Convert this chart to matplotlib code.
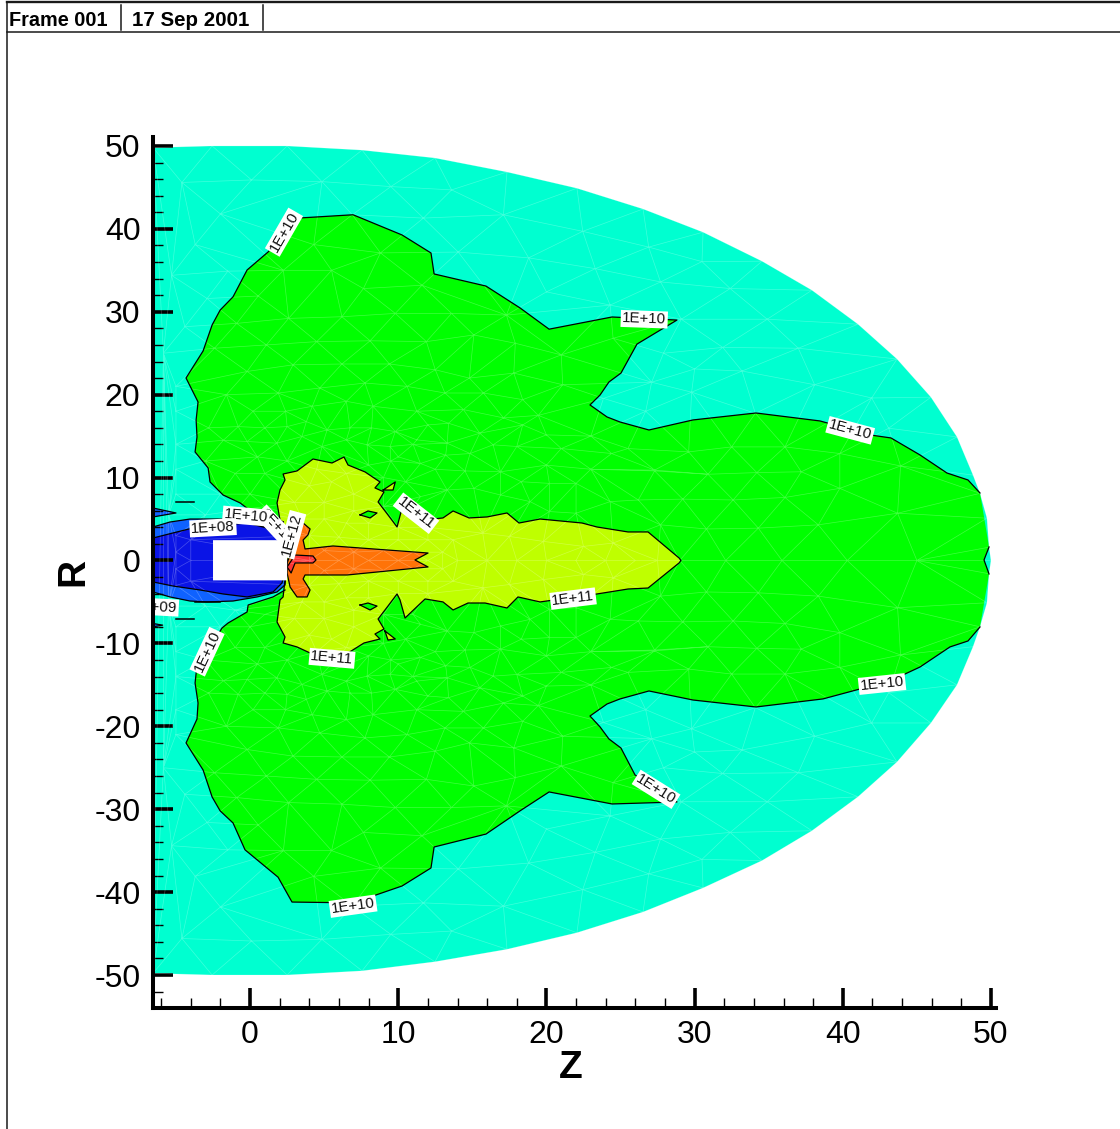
"""Contour plot of a field on a triangular mesh, Z-R plane (Tecplot frame look)."""
import matplotlib

matplotlib.use("Agg")
import matplotlib.pyplot as plt
import matplotlib.tri as mtri
import numpy as np
from matplotlib.lines import Line2D
from matplotlib.path import Path
from matplotlib.ticker import MultipleLocator

plt.rcParams["font.family"] = "Liberation Sans"
plt.rcParams["axes.unicode_minus"] = False

# outer edge of the domain
domain = [(-6.55, 49.8), (-2.56, 50), (2.5, 50), (7.56, 49.5), (12.48, 48.55), (17.34, 46.86),
          (22.06, 44.9), (26.52, 42.4), (30.57, 39.6), (34.55, 36.1), (37.92, 32.6), (41.03, 28.5),
          (43.66, 24.3), (45.95, 19.7), (47.71, 14.9), (48.79, 10.3), (49.26, 8.1), (49.73, 5.1),
          (49.87, 1.6), (50.0, 0), (49.87, -1.6), (49.73, -5.1), (49.26, -8.0), (48.79, -10.4),
          (47.71, -15.0), (45.95, -19.6), (43.66, -24.3), (41.03, -28.5), (37.92, -32.6),
          (34.55, -36.2), (30.57, -39.5), (26.52, -42.4), (22.06, -44.9), (17.34, -46.9),
          (12.48, -48.4), (7.56, -49.5), (2.5, -50), (-2.56, -50), (-6.55, -49.8)]

# 1E+10 contour
green_upper = [(2.16, 2.47), (1.82, 2.83), (1.15, 4.89), (0.13, 5.85), (-0.67, 6.94), (-1.82, 7.9),
               (-2.7, 9.47), (-2.83, 11.16), (-3.71, 13.09), (-3.58, 14.9), (-3.64, 16.95),
               (-3.51, 19.12), (-4.32, 22.01), (-3.17, 25.27), (-2.56, 28.41), (-2.02, 30.2),
               (-1.15, 31.8), (-0.2, 35.04), (1.21, 37.2), (3.24, 41.3), (6.95, 41.7), (10.26, 39.26),
               (12.21, 37.09), (12.42, 34.56), (15.92, 33.1), (18.22, 30.46), (20.18, 27.9),
               (24.43, 29.37), (28.81, 29.0), (26.11, 26.1), (25.03, 22.6), (24.22, 21.53),
               (23.62, 19.96), (22.94, 18.76), (24.09, 17.31), (24.97, 16.7), (26.92, 15.74),
               (29.89, 16.95), (34.14, 17.79), (38.46, 16.83), (41.84, 15.14), (43.25, 14.78),
               (45.21, 12.73), (47.03, 10.55), (48.45, 9.71), (49.26, 8.14)]
green_notch = [(49.87, 1.63), (49.53, 0.06), (49.87, -1.63)]
green_lower = [(49.26, -8.02), (48.45, -9.71), (47.23, -10.43), (45.21, -12.85), (44.06, -13.81),
               (41.16, -15.5), (38.66, -16.7), (34.14, -17.67), (29.89, -16.83), (26.92, -15.74),
               (24.97, -16.7), (24.09, -17.31), (22.94, -18.76), (23.62, -20.08), (24.22, -21.53),
               (25.03, -22.62), (25.98, -25.87), (28.81, -29.13), (24.43, -29.37), (20.18, -27.92),
               (18.22, -30.2), (15.92, -33.0), (12.42, -34.56), (12.21, -37.09), (10.26, -39.26),
               (6.95, -41.3), (2.83, -41.2), (1.89, -38.2), (-0.34, -34.9), (-1.15, -31.66),
               (-2.02, -30.2), (-2.56, -28.53), (-3.17, -25.27), (-4.32, -22.01), (-3.58, -19.12),
               (-3.51, -17.19), (-3.71, -14.78), (-3.58, -12.6), (-2.9, -11.04), (-1.89, -8.14),
               (-1.48, -7.54), (-0.2, -6.21), (-0.13, -5.37), (1.55, -4.4), (2.36, -3.56)]

# 1E+09 and 1E+08 contours around the body
mid_blue = [(-6.55, 4.04), (-5.4, 4.64), (-4.05, 5.0), (-1.82, 5.0), (-0.2, 4.64), (1.01, 4.04),
            (1.82, 2.71), (2.5, 0), (2.36, -2.96), (1.82, -3.8), (0.47, -4.4), (-1.15, -4.89),
            (-2.9, -5.0), (-4.05, -4.89), (-5.4, -4.4), (-6.55, -3.8)]
dark_blue = [(-6.55, 2.71), (-5.2, 3.32), (-3.85, 3.92), (-1.82, 4.28), (-0.2, 4.52), (1.15, 3.92),
             (2.02, 2.47), (2.5, 0), (2.16, -2.71), (1.55, -3.8), (-0.2, -4.4), (-1.82, -4.04),
             (-3.37, -3.56), (-5.2, -3.08), (-6.55, -2.59)]
blue_spike_top = [(-6.55, 6.33), (-5.0, 5.73), (-6.55, 5.25)]
blue_spike_bot = [(-6.55, -7.6), (-5.9, -7.8), (-6.55, -8.0)]
dash_marks = [[(-5.0, 7.0), (-3.8, 7.0)], [(-5.0, -7.0), (-3.8, -7.0)], [(-3.7, -5.0), (-2.0, -5.0)]]

# 1E+11 contour
yellow = [(2.23, 4.64), (2.02, 4.89), (1.82, 6.94), (2.02, 8.5), (2.36, 9.71), (2.23, 10.43),
          (3.17, 10.8), (4.25, 12.24), (5.53, 11.76), (6.34, 12.48), (6.61, 11.52), (7.76, 10.68),
          (8.77, 9.47), (8.43, 8.75), (9.04, 8.26), (8.64, 7.06), (9.31, 5.49), (9.92, 4.04),
          (10.26, 6.33), (11.81, 4.76), (12.35, 5.0), (13.02, 5.13), (13.7, 5.97), (14.78, 5.13),
          (15.99, 5.25), (17.34, 5.73), (18.15, 4.52), (19.57, 5.0), (22.4, 4.52), (23.41, 4.04),
          (25.51, 3.44), (26.86, 3.44), (28.95, 0.3), (29.08, 0), (28.95, -0.3), (26.86, -3.32),
          (25.51, -3.44), (23.41, -4.04), (19.57, -5.0), (18.08, -4.4), (17.34, -5.73),
          (15.86, -5.13), (14.71, -5.13), (13.7, -5.97), (13.02, -5.0), (11.81, -4.64),
          (10.46, -6.94), (10.12, -4.76), (9.92, -4.04), (9.31, -5.49), (8.64, -7.06), (9.04, -8.26),
          (8.43, -8.87), (8.77, -9.47), (7.69, -9.95), (6.61, -11.16), (4.05, -11.16), (3.17, -10.43),
          (2.23, -9.95), (2.36, -9.23), (1.82, -7.42), (2.02, -4.76), (2.23, -4.4), (2.5, 0)]
yellow_spots = [[(8.98, 8.5), (9.8, 9.47), (9.65, 8.5)], [(9.1, -8.5), (9.8, -9.47), (9.31, -9.6)]]
green_spots = [[(7.42, 5.5), (7.96, 5.97), (8.57, 5.73), (8.1, 5.13)],
               [(7.42, -5.37), (7.96, -5.13), (8.57, -5.5), (8.1, -5.97)]]

# 1E+12 and above
orange = [(3.37, 4.04), (3.58, 4.52), (4.05, 3.8), (3.91, 3.08), (3.58, 2.47), (3.71, 1.39), (5.6, 1.75),
          (12.01, 0.9), (11.13, 0.06), (12.01, -0.78), (6.55, -1.75), (3.71, -1.75), (3.58, -2.23),
          (4.05, -3.56), (3.85, -4.4), (3.17, -4.4), (2.7, -3.2), (2.5, -1.51), (2.5, -0.3), (2.83, 1.27),
          (3.17, 2.47)]
red = [(2.5, -0.78), (3.04, 0.66), (4.25, 0.54), (4.45, 0.06), (4.25, -0.3), (3.04, -0.3), (2.77, -1.51)]
body = [(-2.5, 2.45), (2.3, 2.45), (2.5, 1.5), (2.5, -2.4), (-2.5, -2.4)]

# mesh nodes of the upper half; the mesh is symmetric about R = 0
mesh_nodes = [
    (-4.6, 45.6), (0.1, 45.9), (4.85, 45.7), (9.5, 45.1), (13.6, 44.7), (-2.0, 41.8), (6.9, 41.7),
    (11.7, 41.3), (17.1, 41.7), (-3.7, 38.1), (-1.5, 34.9), (14.05, 37.2), (18.8, 36.5), (-5.3, 34.4),
    (-2.9, 31.6), (20.0, 32.4), (-4.4, 28.2), (-5.85, 25.0), (4.3, 38.1), (8.8, 37.1), (5.5, 35.0),
    (2.25, 35.0), (7.65, 32.8), (0.55, 31.9), (11.6, 33.2), (2.6, 29.2), (6.2, 29.4), (9.8, 29.8),
    (13.6, 29.8), (17.3, 29.6), (-0.9, 28.6), (1.1, 26.0), (4.5, 26.4), (8.1, 26.5), (11.9, 26.4),
    (15.1, 27.2), (17.9, 26.2), (-2.4, 25.6), (-0.2, 22.8), (2.9, 23.6), (6.2, 23.7), (9.4, 23.7),
    (12.5, 23.0), (14.8, 22.0), (17.8, 22.6), (21.1, 21.2), (1.9, 20.2), (4.7, 20.8), (7.75, 21.4),
    (10.6, 21.0), (13.15, 20.2), (15.75, 20.2), (18.4, 19.4), (-1.6, 20.0), (0.2, 18.0), (2.4, 18.0),
    (4.2, 18.6), (6.5, 19.2), (8.3, 18.6), (11.25, 18.0), (14.4, 18.2), (17.1, 17.2), (19.45, 17.5),
    (-2.8, 16.0), (-0.8, 16.15), (1.0, 16.0), (2.5, 16.15), (3.8, 16.75), (5.2, 15.75), (6.75, 16.0),
    (8.2, 16.0), (9.8, 15.55), (12.0, 16.35), (13.4, 16.55), (15.5, 15.35), (18.4, 16.35), (20.0, 15.15),
    (-1.8, 14.5), (-0.2, 14.35), (1.8, 14.15), (3.5, 14.95), (4.85, 13.75), (6.5, 14.55), (7.9, 13.95),
    (9.45, 13.75), (11.25, 14.55), (13.3, 14.15), (16.4, 13.95), (18.0, 13.75),
    (22.45, 39.7), (26.9, 37.8), (23.3, 35.2), (27.7, 33.6), (30.5, 36.05), (32.4, 32.8), (24.3, 30.8),
    (29.1, 29.1), (34.9, 29.1), (31.9, 25.7), (37.0, 25.6), (27.9, 25.0), (30.0, 23.1), (33.2, 22.85),
    (27.1, 21.5), (38.1, 21.2), (29.8, 20.3), (41.95, 19.6), (26.7, 18.0), (34.1, 17.75), (43.1, 15.95),
    (24.5, 26.8), (21.0, 24.8), (23.85, 19.55),
    (29.6, 13.1), (32.5, 13.7), (36.1, 13.7), (39.8, 12.9), (43.9, 11.4), (27.3, 10.8), (30.9, 10.4),
    (34.2, 10.6), (37.2, 10.7), (39.8, 8.7), (29.2, 7.4), (32.6, 7.3), (36.1, 7.6), (43.7, 5.7),
    (27.7, 4.3), (30.8, 3.8), (34.3, 3.9), (38.35, 4.3), (29.0, 0), (32.1, 0), (35.9, 0), (40.3, 0), (45.0, 0),
    (11.5, 11.7), (13.2, 12.7), (14.85, 12.9), (16.9, 10.7), (18.3, 9.5), (20.2, 9.3), (22.0, 9.3),
    (24.4, 12.9), (27.3, 10.9), (11.5, 7.7), (13.3, 8.5), (15.1, 8.7), (16.9, 7.9), (18.9, 7.1),
    (20.2, 5.9), (22.0, 5.7), (24.3, 7.1), (26.2, 7.3), (15.7, 3.3), (17.5, 2.9), (19.8, 2.3),
    (22.5, 1.7), (24.5, 2.1), (13.7, 2.5),
    (8.0, 11.5), (9.5, 12.0), (4.0, 9.0), (5.5, 9.5), (7.0, 8.0), (9.0, 10.0), (10.5, 9.5), (3.0, 7.0),
    (5.0, 7.0), (7.0, 6.0), (9.0, 6.5), (11.0, 6.5), (3.5, 5.0), (5.0, 5.0), (6.5, 4.5), (8.0, 4.5),
    (10.0, 4.0), (12.0, 4.0), (4.0, 3.0), (6.0, 2.8), (8.0, 2.5), (10.0, 2.5), (12.0, 2.5), (5.0, 1.2),
    (7.0, 1.0), (9.0, 1.2), (11.0, 1.0), (13.0, 1.0), (4.0, 0), (6.0, 0), (8.0, 0), (10.0, 0), (12.0, 0),
    (14.0, 0), (16.0, 0), (18.0, 0), (20.0, 0), (22.0, 0), (24.0, 0), (26.0, 0), (27.5, 0),
    (-2.0, 8.0), (0.0, 8.0), (-1.0, 10.5), (1.0, 10.5), (-3.0, 12.0), (0.5, 12.5), (2.5, 12.0), (4.5, 11.0),
    (6.5, 10.5), (-5.0, 8.0), (-5.0, 11.0), (-5.0, 14.0), (-5.0, 18.0), (-5.0, 21.0), (-3.0, 5.5), (-1.0, 6.0),
    (1.0, 6.5), (-5.0, 3.0), (-5.0, 1.0), (-4.0, 2.5), (-4.0, 0), (-5.5, 5.5), (10.0, 12.5), (12.5, 11.0),
    (14.5, 10.8), (11.0, 14.0), (21.0, 13.5), (23.0, 15.0), (25.5, 13.5), (23.0, 11.0), (20.0, 11.5),
]

z_ticks = [0, 10, 20, 30, 40, 50]
r_ticks = [-50, -40, -30, -20, -10, 0, 10, 20, 30, 40, 50]

# text, Z, R, rotation (later entries sit on top)
labels = [
    ("1E+09", -6.4, -5.6, -3),
    ("1E+10", 2.29, 39.6, 60),
    ("1E+10", 26.6, 29.1, -2),
    ("1E+10", 40.5, 15.7, -15),
    ("1E+10", 42.65, -14.9, 6),
    ("1E+10", 27.4, -27.6, -32),
    ("1E+10", 6.95, -41.7, 8),
    ("1E+10", -2.9, -11.0, 65),
    ("1E+11", 21.8, -4.6, 7),
    ("1E+11", 5.53, -11.8, -5),
    ("1E+11", 11.2, 5.7, -38),
    ("1E+11", 1.75, 4.05, -47),
    ("1E+10", -0.27, 5.35, -5),
    ("1E+08", -2.5, 3.95, 3),
    ("1E+12", 2.83, 3.1, 75),
]

CYAN = "#00ffd0"
GREEN = "#00ff00"
YELLOW = "#bfff00"
ORANGE = "#ff7308"
RED = "#ff3434"
MID_BLUE = "#0f62ff"
DARK_BLUE = "#0a14e6"

W, H = 1120, 1129
LEFT, RIGHT, TOP, BOTTOM = 153, 996, 137, 1008


def fill(ax, pts, color, edge=True, z=1.0):
    a = np.array(pts)
    ax.fill(a[:, 0], a[:, 1], color=color, lw=0, zorder=z)
    if edge:
        ax.plot(np.r_[a[:, 0], a[0, 0]], np.r_[a[:, 1], a[0, 1]], color="k", lw=0.9, zorder=1.9)


def main():
    fig = plt.figure(figsize=(W / 100, H / 100), dpi=100)
    ax = fig.add_axes([LEFT / W, 1 - BOTTOM / H, (RIGHT - LEFT) / W, (BOTTOM - TOP) / H])
    ax.set_xlim(-6.55, 50.34)
    ax.set_ylim(-53.98, 51.08)

    fill(ax, domain, CYAN, edge=False, z=1.0)
    fill(ax, blue_spike_top, MID_BLUE, z=1.05)
    fill(ax, blue_spike_bot, MID_BLUE, z=1.05)
    fill(ax, green_upper + green_notch + green_lower, GREEN, edge=False, z=1.1)
    for arc in (green_upper, green_notch, green_lower):
        a = np.array(arc)
        ax.plot(a[:, 0], a[:, 1], color="k", lw=0.9, zorder=1.9)
    fill(ax, mid_blue, MID_BLUE, z=1.2)
    fill(ax, dark_blue, DARK_BLUE, z=1.3)
    fill(ax, yellow, YELLOW, z=1.4)
    for spot in yellow_spots:
        fill(ax, spot, YELLOW, z=1.2)
    for spot in green_spots:
        fill(ax, spot, GREEN, z=1.5)
    fill(ax, orange, ORANGE, z=1.6)
    fill(ax, red, RED, z=1.7)
    for mark in dash_marks:
        m = np.array(mark)
        ax.plot(m[:, 0], m[:, 1], color="k", lw=1.1, zorder=1.9)

    # faint mesh over the filled levels
    upper = np.array(mesh_nodes, dtype=float)
    lower = upper * [1, -1]
    nodes = np.unique(np.vstack([upper, lower, np.array(domain)]), axis=0)
    tri = mtri.Triangulation(nodes[:, 0], nodes[:, 1])
    centres = nodes[tri.triangles].mean(axis=1)
    tri.set_mask(~Path(domain).contains_points(centres))
    ax.triplot(tri, color="white", lw=0.5, alpha=0.25, zorder=1.8)

    b = np.array(body)
    ax.fill(b[:, 0], b[:, 1], color="white", lw=0, zorder=1.95)

    for text, z, r, rot in labels:
        ax.text(z, r, text, rotation=rot, rotation_mode="anchor", ha="center", va="center",
                fontsize=10.8, color="#111111", clip_on=True, zorder=3,
                bbox=dict(boxstyle="square,pad=0.1", fc="white", ec="none"))

    for side in ("top", "right"):
        ax.spines[side].set_visible(False)
    for side in ("left", "bottom"):
        ax.spines[side].set_linewidth(2.9)
        ax.spines[side].set_zorder(5)
    ax.patch.set_alpha(0)

    ax.set_xticks(z_ticks)
    ax.set_yticks(r_ticks)
    ax.xaxis.set_minor_locator(MultipleLocator(2))
    ax.yaxis.set_minor_locator(MultipleLocator(2))
    ax.tick_params(which="major", direction="in", length=14.5, width=2.6, labelsize=23, pad=8.5)
    ax.tick_params(which="minor", direction="in", length=7.5, width=1.0)
    ax.tick_params(axis="y", which="major", pad=9)

    fig.text(571 / W, 1 - 1068 / H, "Z", fontsize=28, fontweight="bold", ha="center", va="center")
    fig.text(73 / W, 1 - 572 / H, "R", fontsize=28, fontweight="bold", rotation=90, ha="center", va="center")

    # Tecplot frame header
    frame = [((7, 7), (2, H)), ((7, W), (2, 2)), ((7, W), (32, 32)), ((121, 121), (5, 30)), ((263, 263), (5, 30))]
    for xs, ys in frame:
        lw = 1.7 if ys == (2, 2) else 1.1
        fig.add_artist(Line2D([x / W for x in xs], [1 - y / H for y in ys], color="#1a1a1a", lw=lw))
    fig.text(9 / W, 1 - 20 / H, "Frame 001", fontsize=14.3, fontweight="bold", ha="left", va="center")
    fig.text(132 / W, 1 - 20 / H, "17 Sep 2001", fontsize=14.8, fontweight="bold", ha="left", va="center")

    fig.savefig("out.png", dpi=100)


if __name__ == "__main__":
    main()
